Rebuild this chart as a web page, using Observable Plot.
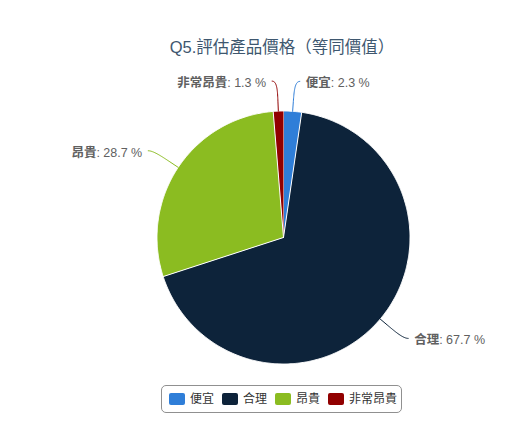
<!DOCTYPE html>
<html><head><meta charset="utf-8">
<script src="https://cdn.jsdelivr.net/npm/d3@7"></script>
<script src="https://cdn.jsdelivr.net/npm/@observablehq/plot@0.6"></script>
<style>
body{margin:0;width:505px;height:422px;overflow:hidden;background:#fff;font-family:"Liberation Sans","Noto Sans CJK TC",sans-serif;}
#title{height:70px;box-sizing:border-box;padding-top:37px;padding-left:59px;text-align:center;font-size:16.5px;line-height:20px;color:#3e576f;white-space:nowrap}
#chart svg{display:block}
#legendWrap{padding-left:58px;text-align:center;padding-top:5px}
#legend{display:inline-flex;align-items:center;border:1px solid #909090;border-radius:5px;height:26px;padding:0 4px 0 7px;}
.item{display:flex;align-items:center;margin-right:8px;font-size:12px;color:#333;line-height:14px}
.item:last-child{margin-right:0}
.sw{width:16px;height:12px;border-radius:2px;margin-right:5px}
</style></head>
<body>
<div id="title"></div>
<div id="chart"></div>
<div id="legendWrap"><div id="legend"></div></div>
<script>
const titleText = "Q5.評估產品價格（等同價值）";
const categories = ["便宜", "合理", "昂貴", "非常昂貴"];
const values = [2.3, 67.7, 28.7, 1.3];
const colors = ["#2f7ed8", "#0d233a", "#8bbc21", "#910000"];

document.getElementById("title").textContent = titleText;

// geometry
const W = 505, H = 310, cx = 283, cy = 167, R = 126.5;
const labelDist = 30, connOffset = 10, connPad = 5, textPad = 11;
const FONT = "'Liberation Sans','Noto Sans CJK TC',sans-serif";
const LABEL_SIZE = 12.5;

const ctx = document.createElement("canvas").getContext("2d");
function measure(t, weight) { ctx.font = `${weight} ${LABEL_SIZE}px ${FONT}`; return ctx.measureText(t).width; }

const rows = categories.map((c, i) => ({cat: c, value: values[i]}));
const arcs = d3.pie().sort(null).value(d => d.value)(rows);

// slice polygons (unit radius, y up)
const slicePts = [];
for (const a of arcs) {
  const n = Math.max(2, Math.ceil((a.endAngle - a.startAngle) / (Math.PI / 360)));
  slicePts.push({cat: a.data.cat, x: 0, y: 0});
  for (let k = 0; k <= n; k++) {
    const t = a.startAngle + (a.endAngle - a.startAngle) * k / n;
    slicePts.push({cat: a.data.cat, x: Math.sin(t), y: Math.cos(t)});
  }
}

// connectors and labels
const connPts = [];
const labels = [];
for (const a of arcs) {
  const m = (a.startAngle + a.endAngle) / 2;
  const s = Math.sin(m), c = Math.cos(m);
  const side = s >= 0 ? 1 : -1;
  const L = [R * s, R * c];
  const B = [(R + connOffset) * s, (R + connOffset) * c];
  const P = [(R + labelDist) * s, (R + labelDist) * c];
  const P0 = [P[0] + side * connPad, P[1]], P1 = P, P2 = [2 * B[0] - L[0], 2 * B[1] - L[1]], P3 = B;
  for (let k = 0; k <= 24; k++) {
    const t = k / 24, u = 1 - t;
    const bx = u*u*u*P0[0] + 3*u*u*t*P1[0] + 3*u*t*t*P2[0] + t*t*t*P3[0];
    const by = u*u*u*P0[1] + 3*u*u*t*P1[1] + 3*u*t*t*P2[1] + t*t*t*P3[1];
    connPts.push({cat: a.data.cat, x: bx / R, y: by / R});
  }
  connPts.push({cat: a.data.cat, x: L[0] / R, y: L[1] / R});
  const name = a.data.cat;
  const val = ": " + a.data.value.toFixed(1) + " %";
  const nw = measure(name, "bold"), vw = measure(val, "normal");
  const start = side > 0 ? P[0] + textPad : P[0] - textPad - nw - vw;
  labels.push({name, val, nx: start / R, vx: (start + nw) / R, y: P[1] / R});
}

const chart = Plot.plot({
  width: W, height: H, margin: 0,
  style: {fontFamily: FONT, background: "white"},
  x: {type: "linear", domain: [-cx / R, (W - cx) / R], range: [0, W], axis: null},
  y: {type: "linear", domain: [-(H - cy) / R, cy / R], range: [H, 0], axis: null},
  color: {domain: categories, range: colors},
  marks: [
    Plot.line(slicePts, {x: "x", y: "y", z: "cat", fill: "cat", stroke: "white", strokeWidth: 1, strokeLinejoin: "round"}),
    Plot.line(connPts, {x: "x", y: "y", z: "cat", stroke: "cat", strokeWidth: 1}),
    Plot.text(labels, {x: "nx", y: "y", text: "name", textAnchor: "start", dy: 2, fontSize: LABEL_SIZE, fontWeight: "bold", fill: "#606060"}),
    Plot.text(labels, {x: "vx", y: "y", text: "val", textAnchor: "start", dy: 2, fontSize: LABEL_SIZE, fill: "#606060"})
  ]
});
document.getElementById("chart").appendChild(chart);

const lg = document.getElementById("legend");
categories.forEach((c, i) => {
  const it = document.createElement("div"); it.className = "item";
  const sw = document.createElement("span"); sw.className = "sw"; sw.style.background = colors[i];
  const tx = document.createElement("span"); tx.textContent = c;
  it.appendChild(sw); it.appendChild(tx); lg.appendChild(it);
});
</script>
</body></html>
